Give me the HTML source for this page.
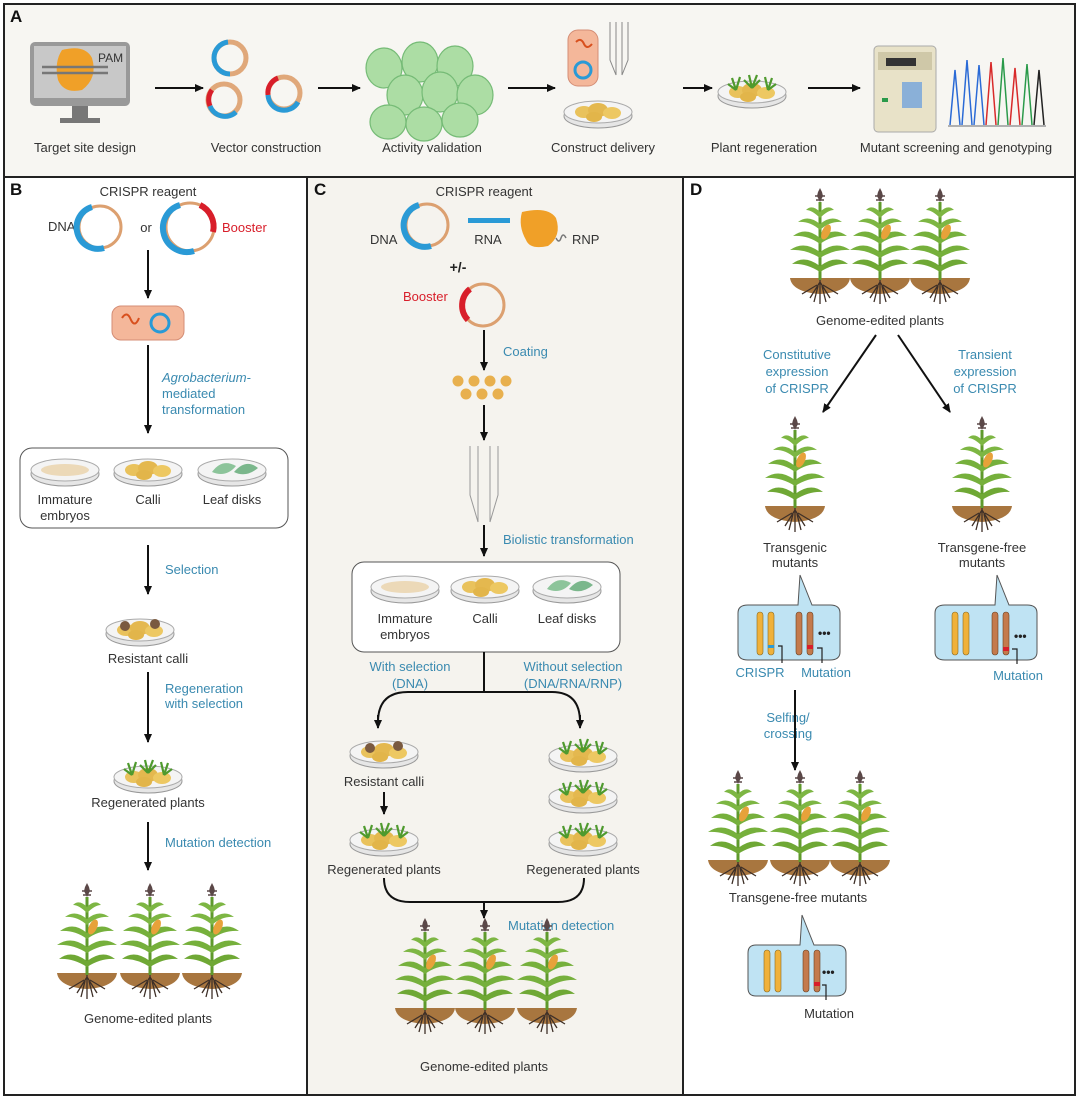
<!DOCTYPE html>
<html><head><meta charset="utf-8"><style>
html,body{margin:0;padding:0;background:#fff}
svg{display:block}
text{font-family:"Liberation Sans",sans-serif;font-size:13px;fill:#333}
.b{fill:#3a8ab0}
.c{text-anchor:middle}
.h{font-weight:bold;font-size:17px;fill:#111}
</style></head><body>
<svg width="1080" height="1100" viewBox="0 0 1080 1100" xmlns="http://www.w3.org/2000/svg">
<defs>
<marker id="ar" markerWidth="10" markerHeight="10" refX="8" refY="5" orient="auto" markerUnits="userSpaceOnUse"><path d="M0,1 L9,5 L0,9 Z" fill="#111"/></marker>
<g id="plant">
  <path d="M-2,2 L0,-2 L2,2 L3,6 L0,12 L-3,6Z" fill="#5b4848"/>
  <path d="M-5,6 L5,6 M-4,10 L4,10" stroke="#5b4848" stroke-width="1.5"/>
  <path d="M-30,88 L30,88 Q28,102 0,104 Q-28,102 -30,88Z" fill="#a8763f"/>
  <path d="M0,88 L0,114 M0,92 L-10,108 M0,92 L10,108 M-3,95 L-18,104 M3,95 L18,104 M-2,96 L-6,112 M2,96 L6,112" stroke="#3e3028" stroke-width="1.3"/>
  <line x1="0" y1="12" x2="0" y2="90" stroke="#5f9a2c" stroke-width="3"/>
  <path d="M0,22 Q-8,14 -14,20 Q-8,20 0,28Z M0,22 Q8,14 14,20 Q8,20 0,28Z" fill="#7db643"/>
  <path d="M0,34 Q-12,24 -22,32 Q-10,31 0,40Z M0,34 Q12,24 22,32 Q10,31 0,40Z" fill="#7db643"/>
  <path d="M0,48 Q-14,36 -27,46 Q-12,45 0,54Z M0,48 Q14,36 27,46 Q12,45 0,54Z" fill="#76b03c"/>
  <path d="M0,62 Q-16,50 -30,60 Q-14,59 0,68Z M0,62 Q16,50 30,60 Q14,59 0,68Z" fill="#76b03c"/>
  <path d="M0,76 Q-16,64 -28,74 Q-14,73 0,82Z M0,76 Q16,64 28,74 Q14,73 0,82Z" fill="#6fa835"/>
  <ellipse cx="6" cy="42" rx="4" ry="8" fill="#e7a23a" transform="rotate(25 6 42)"/>
</g>
<g id="dish">
  <ellipse cx="0" cy="4" rx="34" ry="12" fill="#e6e6e6" stroke="#999" stroke-width="1"/>
  <ellipse cx="0" cy="0" rx="34" ry="11" fill="#f4f4f4" stroke="#aaa" stroke-width="1"/>
</g>
<g id="calli">
  <use href="#dish"/>
  <ellipse cx="-14" cy="0" rx="9" ry="6" fill="#e9c25c"/><ellipse cx="0" cy="-2" rx="10" ry="7" fill="#e4b84f"/><ellipse cx="14" cy="1" rx="9" ry="6" fill="#edc862"/><ellipse cx="-4" cy="5" rx="8" ry="5" fill="#e2b54a"/>
</g>
<g id="regen">
  <use href="#calli"/>
  <path d="M-16,-2 L-20,-14 M-16,-2 L-12,-15 M-16,-2 L-24,-8 M0,-4 L-3,-17 M0,-4 L5,-17 M0,-4 L-8,-12 M0,-4 L8,-12 M16,-2 L13,-15 M16,-2 L20,-14 M16,-2 L24,-8" stroke="#4f9a2e" stroke-width="2.2"/>
</g>
<g id="emb">
  <use href="#dish"/>
  <ellipse cx="0" cy="0" rx="24" ry="6" fill="#ecd9b8"/>
</g>
<g id="leaf">
  <use href="#dish"/>
  <path d="M-20,2 Q-10,-12 4,-4 Q-6,8 -20,2Z" fill="#8cc49a"/><path d="M2,2 Q14,-12 26,-2 Q14,8 2,2Z" fill="#7bb78c"/>
</g>
</defs>

<!-- frame -->
<rect x="4" y="4" width="1071" height="1091" fill="#fff" stroke="#222" stroke-width="2"/>
<rect x="5" y="5" width="1069" height="171" fill="#f7f6f2"/>
<rect x="308" y="178" width="375" height="916" fill="#f5f3ee"/>
<line x1="4" y1="177" x2="1075" y2="177" stroke="#222" stroke-width="2"/>
<line x1="307" y1="177" x2="307" y2="1095" stroke="#222" stroke-width="2"/>
<line x1="683" y1="177" x2="683" y2="1095" stroke="#222" stroke-width="2"/>
<text x="10" y="22" class="h">A</text>
<text x="10" y="195" class="h">B</text>
<text x="314" y="195" class="h">C</text>
<text x="690" y="195" class="h">D</text>

<!-- Panel A -->
<rect x="30" y="42" width="100" height="64" rx="5" fill="#999"/>
<rect x="34" y="46" width="92" height="52" fill="#c8c8c8"/>
<rect x="72" y="106" width="16" height="12" fill="#777"/><rect x="60" y="118" width="40" height="5" fill="#777"/>
<path d="M62,50 Q85,44 92,58 Q98,78 82,90 Q64,94 58,80 Q54,62 62,50Z" fill="#f0a028"/>
<path d="M42,67 L108,67 M42,73 L108,73" stroke="#777" stroke-width="2.5"/>
<text x="98" y="62" style="font-size:12px">PAM</text>
<text x="85" y="152" class="c">Target site design</text>
<g fill="none" stroke-width="5">
<circle cx="230" cy="58" r="16" stroke="#e0a87a"/><path d="M230,74 A16,16 0 0 1 214,58 A16,16 0 0 1 228,42" stroke="#2a9ad6"/>
<circle cx="224" cy="100" r="16" stroke="#e0a87a"/><path d="M212,90 A16,16 0 0 0 210,106" stroke="#d81e2a"/><path d="M210,106 A16,16 0 0 0 236,112" stroke="#2a9ad6"/>
<circle cx="284" cy="93" r="16" stroke="#e0a87a"/><path d="M278,78 A16,16 0 0 0 268,95" stroke="#d81e2a"/><path d="M268,95 A16,16 0 0 0 298,102" stroke="#2a9ad6"/>
</g>
<text x="266" y="152" class="c">Vector construction</text>
<g fill="#a8dca0" stroke="#6fb870" stroke-width="1.2" opacity="0.95">
<ellipse cx="384" cy="68" rx="18" ry="20"/><ellipse cx="420" cy="62" rx="18" ry="20"/><ellipse cx="455" cy="66" rx="18" ry="20"/>
<ellipse cx="405" cy="95" rx="18" ry="20"/><ellipse cx="440" cy="92" rx="18" ry="20"/><ellipse cx="475" cy="95" rx="18" ry="20"/>
<ellipse cx="388" cy="122" rx="18" ry="17"/><ellipse cx="424" cy="124" rx="18" ry="17"/><ellipse cx="460" cy="120" rx="18" ry="17"/>
</g>
<text x="432" y="152" class="c">Activity validation</text>
<rect x="568" y="30" width="30" height="56" rx="10" fill="#f4b79a" stroke="#d48d75"/>
<circle cx="583" cy="70" r="8" fill="none" stroke="#2a9ad6" stroke-width="3"/>
<path d="M576,42 q5,-5 8,2 q3,6 8,0" stroke="#d8501e" fill="none" stroke-width="2"/>
<path d="M610,22 L610,60 L616,75 L616,22 M622,22 L622,75 L628,60 L628,22" fill="none" stroke="#888"/>
<use href="#calli" x="598" y="112"/>
<text x="603" y="152" class="c">Construct delivery</text>
<use href="#regen" x="752" y="92"/>
<text x="764" y="152" class="c">Plant regeneration</text>
<rect x="874" y="46" width="62" height="86" rx="4" fill="#e8e2c8" stroke="#aaa"/>
<rect x="878" y="52" width="54" height="18" fill="#cfc8a8"/><rect x="886" y="58" width="30" height="8" fill="#333"/>
<rect x="902" y="82" width="20" height="26" fill="#8ab0d8"/><rect x="882" y="98" width="6" height="4" fill="#2a9a4a"/>
<g fill="none" stroke-width="1.5">
<path d="M950,125 L955,70 L960,125 M962,125 L967,60 L972,125 M974,125 L979,65 L984,125" stroke="#2a6ad6"/>
<path d="M986,125 L991,62 L996,125 M1010,125 L1015,68 L1020,125" stroke="#d82a2a"/>
<path d="M998,125 L1003,58 L1008,125 M1022,125 L1027,64 L1032,125" stroke="#2a9a4a"/>
<path d="M1034,125 L1039,70 L1044,125" stroke="#222"/>
<line x1="948" y1="126" x2="1046" y2="126" stroke="#999"/>
</g>
<text x="956" y="152" class="c">Mutant screening and genotyping</text>
<g stroke="#111" stroke-width="2" marker-end="url(#ar)">
<line x1="155" y1="88" x2="203" y2="88"/><line x1="318" y1="88" x2="360" y2="88"/><line x1="508" y1="88" x2="555" y2="88"/><line x1="683" y1="88" x2="712" y2="88"/><line x1="808" y1="88" x2="860" y2="88"/>
</g>

<!-- Panel B -->
<text x="148" y="196" class="c">CRISPR reagent</text>
<text x="48" y="231">DNA</text>
<circle cx="100" cy="227" r="21" fill="none" stroke="#dca070" stroke-width="3"/>
<path d="M92,207 A21,21 0 0 0 104,248" fill="none" stroke="#2a9ad6" stroke-width="6"/>
<text x="146" y="232" class="c">or</text>
<circle cx="190" cy="227" r="24" fill="none" stroke="#dca070" stroke-width="3"/>
<path d="M180,205 A24,24 0 0 0 194,251" fill="none" stroke="#2a9ad6" stroke-width="6"/>
<path d="M200,205 A24,24 0 0 1 213,232" fill="none" stroke="#d81e2a" stroke-width="6"/>
<text x="222" y="232" style="fill:#d81e2a">Booster</text>
<rect x="112" y="306" width="72" height="34" rx="9" fill="#f4b79a" stroke="#d48d75"/>
<circle cx="160" cy="323" r="9" fill="none" stroke="#2a9ad6" stroke-width="3"/>
<path d="M122,318 q5,-8 9,2 q4,8 8,-2" stroke="#d8501e" fill="none" stroke-width="2"/>
<text x="162" y="382" class="b" font-style="italic">Agrobacterium-</text>
<text x="162" y="398" class="b">mediated</text>
<text x="162" y="414" class="b">transformation</text>
<rect x="20" y="448" width="268" height="80" rx="12" fill="#fff" stroke="#555"/>
<use href="#emb" x="65" y="470"/><use href="#calli" x="148" y="470"/><use href="#leaf" x="232" y="470"/>
<text x="65" y="504" class="c">Immature</text><text x="65" y="520" class="c">embryos</text>
<text x="148" y="504" class="c">Calli</text><text x="232" y="504" class="c">Leaf disks</text>
<text x="165" y="574" class="b">Selection</text>
<use href="#calli" x="140" y="630"/>
<circle cx="155" cy="624" r="5" fill="#7a5a40"/><circle cx="125" cy="626" r="5" fill="#7a5a40"/>
<text x="148" y="663" class="c">Resistant calli</text>
<text x="165" y="693" class="b">Regeneration</text><text x="165" y="708" class="b">with selection</text>
<use href="#regen" x="148" y="777"/>
<text x="148" y="807" class="c">Regenerated plants</text>
<text x="165" y="847" class="b">Mutation detection</text>
<use href="#plant" x="87" y="885"/><use href="#plant" x="150" y="885"/><use href="#plant" x="212" y="885"/>
<text x="148" y="1023" class="c">Genome-edited plants</text>
<g stroke="#111" stroke-width="2" marker-end="url(#ar)">
<line x1="148" y1="250" x2="148" y2="298"/><line x1="148" y1="345" x2="148" y2="433"/><line x1="148" y1="545" x2="148" y2="594"/><line x1="148" y1="672" x2="148" y2="742"/><line x1="148" y1="822" x2="148" y2="870"/>
</g>

<!-- Panel C -->
<text x="484" y="196" class="c">CRISPR reagent</text>
<text x="370" y="244">DNA</text>
<circle cx="427" cy="225" r="21" fill="none" stroke="#dca070" stroke-width="3"/>
<path d="M419,205 A21,21 0 0 0 431,246" fill="none" stroke="#2a9ad6" stroke-width="6"/>
<rect x="468" y="218" width="42" height="5" fill="#2a9ad6"/>
<text x="488" y="244" class="c">RNA</text>
<path d="M522,212 Q548,206 556,218 Q562,236 548,246 Q530,250 526,240 Q518,226 522,212Z" fill="#f0a028"/>
<path d="M556,238 q3,6 5,0 q2,-6 5,0" fill="none" stroke="#777" stroke-width="1.5"/>
<text x="572" y="244">RNP</text>
<text x="458" y="272" class="c" style="font-weight:bold;font-size:14px;fill:#222">+/-</text>
<text x="403" y="301" style="fill:#d81e2a">Booster</text>
<circle cx="483" cy="305" r="21" fill="none" stroke="#dca070" stroke-width="3"/>
<path d="M470,289 A21,21 0 0 0 468,320" fill="none" stroke="#d81e2a" stroke-width="6"/>
<text x="503" y="356" class="b">Coating</text>
<g fill="#e8b04e"><circle cx="458" cy="381" r="5.5"/><circle cx="474" cy="381" r="5.5"/><circle cx="490" cy="381" r="5.5"/><circle cx="506" cy="381" r="5.5"/><circle cx="466" cy="394" r="5.5"/><circle cx="482" cy="394" r="5.5"/><circle cx="498" cy="394" r="5.5"/></g>
<path d="M470,446 L470,495 L478,522 L478,446 M490,446 L490,522 L498,495 L498,446" fill="none" stroke="#999"/>
<text x="503" y="544" class="b">Biolistic transformation</text>
<rect x="352" y="562" width="268" height="90" rx="12" fill="#fff" stroke="#555"/>
<use href="#emb" x="405" y="587"/><use href="#calli" x="485" y="587"/><use href="#leaf" x="567" y="587"/>
<text x="405" y="623" class="c">Immature</text><text x="405" y="639" class="c">embryos</text>
<text x="485" y="623" class="c">Calli</text><text x="567" y="623" class="c">Leaf disks</text>
<text x="410" y="671" class="c b">With selection</text><text x="410" y="688" class="c b">(DNA)</text>
<text x="573" y="671" class="c b">Without selection</text><text x="573" y="688" class="c b">(DNA/RNA/RNP)</text>
<use href="#calli" x="384" y="752"/><circle cx="398" cy="746" r="5" fill="#7a5a40"/><circle cx="370" cy="748" r="5" fill="#7a5a40"/>
<text x="384" y="786" class="c">Resistant calli</text>
<use href="#regen" x="384" y="840"/>
<text x="384" y="874" class="c">Regenerated plants</text>
<use href="#regen" x="583" y="756"/><use href="#regen" x="583" y="797"/><use href="#regen" x="583" y="840"/>
<text x="583" y="874" class="c">Regenerated plants</text>
<text x="508" y="930" class="b">Mutation detection</text>
<use href="#plant" x="425" y="920"/><use href="#plant" x="485" y="920"/><use href="#plant" x="547" y="920"/>
<text x="484" y="1071" class="c">Genome-edited plants</text>
<g fill="none" stroke="#111" stroke-width="2">
<path d="M484,652 L484,692 M378,722 Q378,692 408,692 L552,692 Q580,692 580,722" />
<path d="M384,878 Q384,902 410,902 L558,902 Q584,902 584,878"/>
</g>
<g stroke="#111" stroke-width="2" marker-end="url(#ar)" fill="none">
<line x1="378" y1="715" x2="378" y2="728"/><line x1="580" y1="715" x2="580" y2="728"/>
<line x1="484" y1="330" x2="484" y2="370"/><line x1="484" y1="405" x2="484" y2="440"/><line x1="484" y1="525" x2="484" y2="556"/><line x1="384" y1="792" x2="384" y2="814"/><line x1="484" y1="902" x2="484" y2="918"/>
</g>

<!-- Panel D -->
<use href="#plant" x="820" y="190"/><use href="#plant" x="880" y="190"/><use href="#plant" x="940" y="190"/>
<text x="880" y="325" class="c">Genome-edited plants</text>
<text x="797" y="359" class="c b">Constitutive</text><text x="797" y="376" class="c b">expression</text><text x="797" y="393" class="c b">of CRISPR</text>
<text x="985" y="359" class="c b">Transient</text><text x="985" y="376" class="c b">expression</text><text x="985" y="393" class="c b">of CRISPR</text>
<use href="#plant" x="795" y="418"/><use href="#plant" x="982" y="418"/>
<text x="795" y="552" class="c">Transgenic</text><text x="795" y="567" class="c">mutants</text>
<text x="982" y="552" class="c">Transgene-free</text><text x="982" y="567" class="c">mutants</text>
<g id="box1">
<path d="M748,605 L798,605 L800,575 L812,605 L830,605 Q840,605 840,613 L840,652 Q840,660 830,660 L748,660 Q738,660 738,652 L738,613 Q738,605 748,605Z" fill="#bfe3f3" stroke="#555"/>
<rect x="757" y="612" width="6" height="43" rx="3" fill="#f0b13a" stroke="#8a6a20" stroke-width="0.6"/>
<rect x="768" y="612" width="6" height="43" rx="3" fill="#f0b13a" stroke="#8a6a20" stroke-width="0.6"/>
<rect x="768" y="645" width="6" height="3" fill="#2a9ad6"/>
<rect x="796" y="612" width="6" height="43" rx="3" fill="#c47a4c" stroke="#6a4020" stroke-width="0.6"/>
<rect x="807" y="612" width="6" height="43" rx="3" fill="#c47a4c" stroke="#6a4020" stroke-width="0.6"/>
<rect x="807" y="645" width="6" height="4" fill="#d81e2a"/>
<text x="818" y="637" style="font-weight:bold;font-size:12px;fill:#222">•••</text>
<path d="M778,646 L782,646 L782,663 M817,648 L822,648 L822,663" fill="none" stroke="#222" stroke-width="1.2"/>
</g>
<text x="760" y="677" class="c b">CRISPR</text><text x="826" y="677" class="c b">Mutation</text>
<path d="M945,605 L995,605 L997,575 L1009,605 L1027,605 Q1037,605 1037,613 L1037,652 Q1037,660 1027,660 L945,660 Q935,660 935,652 L935,613 Q935,605 945,605Z" fill="#bfe3f3" stroke="#555"/>
<rect x="952" y="612" width="6" height="43" rx="3" fill="#f0b13a" stroke="#8a6a20" stroke-width="0.6"/>
<rect x="963" y="612" width="6" height="43" rx="3" fill="#f0b13a" stroke="#8a6a20" stroke-width="0.6"/>
<rect x="992" y="612" width="6" height="43" rx="3" fill="#c47a4c" stroke="#6a4020" stroke-width="0.6"/>
<rect x="1003" y="612" width="6" height="43" rx="3" fill="#c47a4c" stroke="#6a4020" stroke-width="0.6"/>
<rect x="1003" y="647" width="6" height="4" fill="#d81e2a"/>
<text x="1014" y="640" style="font-weight:bold;font-size:12px;fill:#222">•••</text>
<path d="M1012,649 L1017,649 L1017,664" fill="none" stroke="#222" stroke-width="1.2"/>
<text x="1018" y="680" class="c b">Mutation</text>
<text x="788" y="722" class="c b">Selfing/</text><text x="788" y="738" class="c b">crossing</text>
<use href="#plant" x="738" y="772"/><use href="#plant" x="800" y="772"/><use href="#plant" x="860" y="772"/>
<text x="798" y="902" class="c">Transgene-free mutants</text>
<path d="M756,945 L800,945 L802,915 L814,945 L836,945 Q846,945 846,953 L846,988 Q846,996 836,996 L756,996 Q748,996 748,988 L748,953 Q748,945 756,945Z" fill="#bfe3f3" stroke="#555"/>
<rect x="764" y="950" width="6" height="42" rx="3" fill="#f0b13a" stroke="#8a6a20" stroke-width="0.6"/>
<rect x="775" y="950" width="6" height="42" rx="3" fill="#f0b13a" stroke="#8a6a20" stroke-width="0.6"/>
<rect x="803" y="950" width="6" height="42" rx="3" fill="#c47a4c" stroke="#6a4020" stroke-width="0.6"/>
<rect x="814" y="950" width="6" height="42" rx="3" fill="#c47a4c" stroke="#6a4020" stroke-width="0.6"/>
<rect x="814" y="982" width="6" height="4" fill="#d81e2a"/>
<text x="822" y="976" style="font-weight:bold;font-size:12px;fill:#222">•••</text>
<path d="M822,985 L826,985 L826,1000" fill="none" stroke="#222" stroke-width="1.2"/>
<text x="829" y="1018" class="c">Mutation</text>
<g stroke="#111" stroke-width="2" marker-end="url(#ar)">
<line x1="876" y1="335" x2="823" y2="412"/><line x1="898" y1="335" x2="950" y2="412"/><line x1="795" y1="690" x2="795" y2="770"/>
</g>
</svg>
</body></html>
